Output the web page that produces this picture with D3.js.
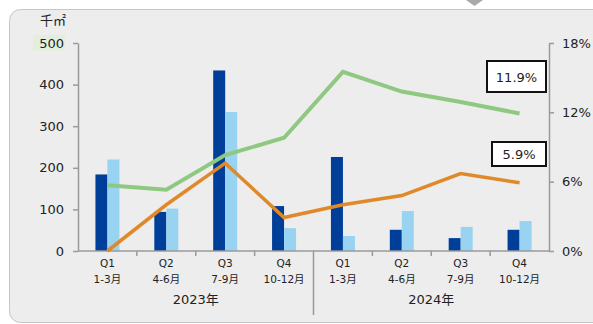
<!DOCTYPE html>
<html>
<head>
<meta charset="utf-8">
<script src="https://cdn.jsdelivr.net/npm/d3@7"></script>
<style>
  body { margin: 0; background: #fff; }
  text { font-family: "DejaVu Sans", "Noto Sans CJK JP", sans-serif; fill: #222; }
</style>
</head>
<body>
<div id="wrapper"></div>
<script>
// data
const years = ['2023年', '2024年']
const quarters = ['Q1', 'Q2', 'Q3', 'Q4']
const months = ['1-3月', '4-6月', '7-9月', '10-12月']
const categories = ['2023Q1', '2023Q2', '2023Q3', '2023Q4', '2024Q1', '2024Q2', '2024Q3', '2024Q4']
const darkBars = [184, 94, 434, 108, 226, 51, 31, 51]
const lightBars = [220, 102, 334, 55, 36, 96, 58, 72]
const greenRate = [5.7, 5.3, 8.3, 9.8, 15.5, 13.8, 12.9, 11.9]
const orangeRate = [0, 4.0, 7.6, 2.9, 4.0, 4.8, 6.7, 5.9]
const leftTicks = [0, 100, 200, 300, 400, 500]
const rightTicks = [0, 6, 12, 18]

const dimensions = {
  width: 593,
  height: 324,
  margin: { top: 43, right: 44, bottom: 73, left: 78 },
}
dimensions.boundedWidth = dimensions.width - dimensions.margin.left - dimensions.margin.right
dimensions.boundedHeight = dimensions.height - dimensions.margin.top - dimensions.margin.bottom

const svg = d3.select('#wrapper').append('svg')
  .attr('width', dimensions.width)
  .attr('height', dimensions.height)

// panel
svg.append('rect')
  .attr('x', 9.5).attr('y', 9.5)
  .attr('width', 640).attr('height', 313)
  .attr('rx', 11)
  .attr('fill', '#ededed')
  .attr('stroke', '#c6c6c6')
svg.append('path')
  .attr('d', 'M466,0 L483,0 L474.5,6 Z')
  .attr('fill', '#a9a9a9')
// faint highlight behind the top tick label
svg.append('rect')
  .attr('x', 33).attr('y', 35)
  .attr('width', 32).attr('height', 16)
  .attr('fill', '#e3efdc')

const bounds = svg.append('g')
  .attr('transform', `translate(${dimensions.margin.left},${dimensions.margin.top})`)

// scales
const xScale = d3.scaleBand().domain(categories).range([0, dimensions.boundedWidth])
const yScale = d3.scaleLinear().domain([0, 500]).range([dimensions.boundedHeight, 0])
const rScale = d3.scaleLinear().domain([0, 18]).range([dimensions.boundedHeight, 0])
const barW = 12

// bars
bounds.append('g').selectAll('rect')
  .data(categories)
  .join('rect')
  .attr('x', (d) => xScale(d) + xScale.bandwidth() / 2 - barW)
  .attr('y', (d, i) => yScale(darkBars[i]))
  .attr('width', barW)
  .attr('height', (d, i) => yScale(0) - yScale(darkBars[i]))
  .attr('fill', '#003f99')

bounds.append('g').selectAll('rect')
  .data(categories)
  .join('rect')
  .attr('x', (d) => xScale(d) + xScale.bandwidth() / 2)
  .attr('y', (d, i) => yScale(lightBars[i]))
  .attr('width', barW)
  .attr('height', (d, i) => yScale(0) - yScale(lightBars[i]))
  .attr('fill', '#98d3f2')

// axes
const axisColor = '#9a9a9a'
const styleAxis = (g) => {
  g.select('.domain').attr('stroke', axisColor).attr('stroke-width', 1.5)
  g.selectAll('.tick line').attr('stroke', axisColor).attr('stroke-width', 1.5)
  g.selectAll('.tick text')
    .style('font-size', '13px')
    .style('font-family', '"DejaVu Sans", sans-serif')
    .attr('fill', '#222')
}

bounds.append('g')
  .call(d3.axisLeft(yScale).tickValues(leftTicks).tickSize(5).tickPadding(9).tickSizeOuter(0))
  .call(styleAxis)

bounds.append('g')
  .attr('transform', `translate(${dimensions.boundedWidth},0)`)
  .call(d3.axisRight(rScale).tickValues(rightTicks).tickSize(5).tickPadding(8)
    .tickFormat((d) => d + '%').tickSizeOuter(0))
  .call(styleAxis)

// x axis baseline and boundary ticks
const xAxis = bounds.append('g').attr('transform', `translate(0,${dimensions.boundedHeight})`)
xAxis.append('line')
  .attr('x1', 0).attr('x2', dimensions.boundedWidth)
  .attr('stroke', axisColor).attr('stroke-width', 1.5)
xAxis.selectAll('.qtick')
  .data(categories.slice(1))
  .join('line')
  .attr('x1', (d) => xScale(d)).attr('x2', (d) => xScale(d))
  .attr('y1', 0)
  .attr('y2', (d, i) => (i === 3 ? 64 : 5))
  .attr('stroke', axisColor).attr('stroke-width', 1.5)

xAxis.selectAll('.qlabel')
  .data(categories)
  .join('text')
  .attr('x', (d) => xScale(d) + xScale.bandwidth() / 2)
  .attr('y', 16)
  .attr('text-anchor', 'middle')
  .style('font-size', '10.5px')
  .text((d, i) => quarters[i % 4])

xAxis.selectAll('.mlabel')
  .data(categories)
  .join('text')
  .attr('x', (d) => xScale(d) + xScale.bandwidth() / 2)
  .attr('y', 32)
  .attr('text-anchor', 'middle')
  .style('font-size', '10.5px')
  .text((d, i) => months[i % 4])

xAxis.selectAll('.ylabel')
  .data(years)
  .join('text')
  .attr('x', (d, i) => xScale(categories[i * 4]) + xScale.bandwidth() * 2)
  .attr('y', 53)
  .attr('text-anchor', 'middle')
  .style('font-size', '13px')
  .text((d) => d)

// lines
const lineGen = (vals) => d3.line()
  .x((d, i) => xScale(categories[i]) + xScale.bandwidth() / 2)
  .y((d) => rScale(d))(vals)

bounds.append('path')
  .attr('d', lineGen(greenRate))
  .attr('fill', 'none')
  .attr('stroke', '#8fc880')
  .attr('stroke-width', 4)

bounds.append('path')
  .attr('d', lineGen(orangeRate))
  .attr('fill', 'none')
  .attr('stroke', '#e0892a')
  .attr('stroke-width', 3.5)

// unit label
svg.append('text')
  .attr('x', 40).attr('y', 25)
  .style('font-size', '13px')
  .text('千㎡')

// callout boxes
const callouts = [
  { text: '11.9%', x: 487, y: 61, w: 59, h: 31 },
  { text: '5.9%', x: 492, y: 142, w: 54, h: 24 },
]
const cg = svg.append('g').selectAll('g').data(callouts).join('g')
cg.append('rect')
  .attr('x', (d) => d.x).attr('y', (d) => d.y)
  .attr('width', (d) => d.w).attr('height', (d) => d.h)
  .attr('fill', '#fff').attr('stroke', '#111').attr('stroke-width', 2)
cg.append('text')
  .attr('x', (d) => d.x + d.w / 2).attr('y', (d) => d.y + d.h / 2 + 5)
  .attr('text-anchor', 'middle')
  .style('font-size', '13px')
  .text((d) => d.text)
</script>
</body>
</html>
